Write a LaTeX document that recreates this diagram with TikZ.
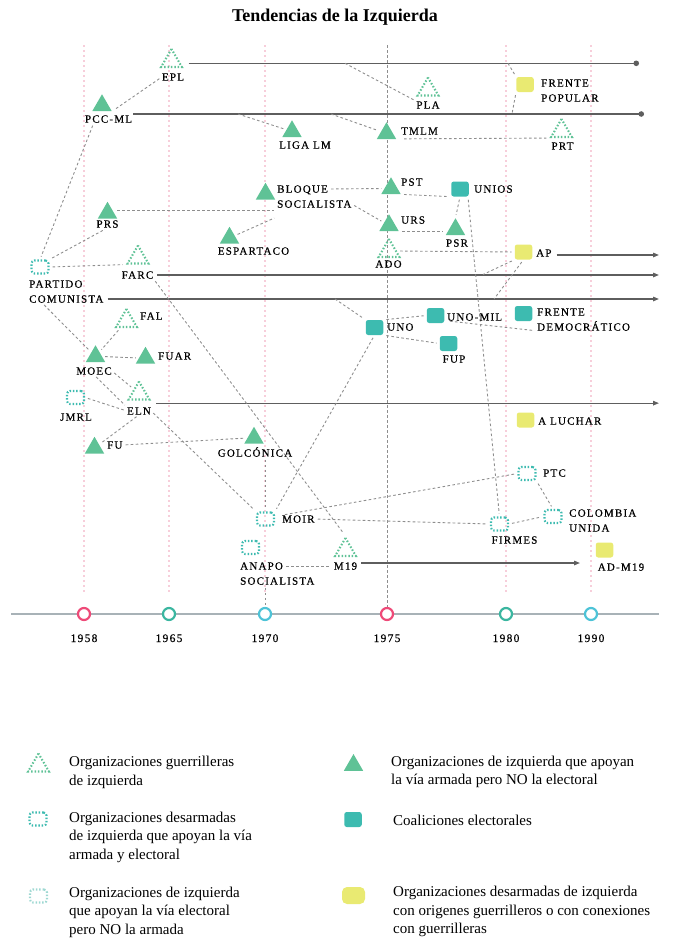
\documentclass[tikz,border=0pt]{standalone}
\usepackage{fontspec}
\setmainfont{Liberation Serif}
\newfontfamily\lblfont[LetterSpace=11,FakeBold=0.5]{Liberation Serif}
\usepackage{tikz}
\usetikzlibrary{arrows.meta,shapes.geometric,backgrounds}
\usepackage{xcolor}
\definecolor{tri}{HTML}{5FC296}
\definecolor{coal}{HTML}{3DBBB0}
\definecolor{yel}{HTML}{E9EA72}
\definecolor{lsq}{HTML}{9ED8D2}
\definecolor{guidec}{HTML}{F7CEDA}
\definecolor{lifec}{HTML}{5E5E5E}
\definecolor{linkc}{HTML}{8E8E8E}
\definecolor{axisc}{HTML}{A8B2B7}
\definecolor{yrA}{HTML}{EE4A78}
\definecolor{yrB}{HTML}{3AB6A0}
\definecolor{yrC}{HTML}{4DC3D7}

\begin{document}
\begin{tikzpicture}[x=1pt,y=-1pt,>={Triangle[length=6pt,width=4.5pt]},line cap=round,
  armed/.style={regular polygon,regular polygon sides=3,fill=tri,minimum size=22.5pt,inner sep=0pt},
  guerrilla/.style={regular polygon,regular polygon sides=3,draw=tri,line width=2.1pt,dash pattern=on 1.5pt off 1.9pt,line cap=butt,minimum size=24pt,inner sep=0pt},
  mixed/.style={rectangle,draw=coal,line width=2.1pt,dash pattern=on 1.5pt off 1.8pt,line cap=butt,rounded corners=3pt,minimum width=17pt,minimum height=13pt,inner sep=0pt},
  electoral/.style={mixed,draw=lsq},
  coalition/.style={rectangle,fill=coal,rounded corners=2.5pt,minimum width=17.5pt,minimum height=15pt,inner sep=0pt},
  excombat/.style={rectangle,fill=yel,rounded corners=2.5pt,minimum width=17.5pt,minimum height=15pt,inner sep=0pt},
  lbl/.style={font=\lblfont\fontsize{11}{15}\selectfont,inner sep=0pt,text height=7.3pt,text depth=0pt},
  yearlbl/.style={font=\lblfont\fontsize{11.5}{14}\selectfont,inner sep=0pt,text height=8pt,text depth=0pt},
  legtxt/.style={font=\fontsize{15}{18.5}\selectfont,inner sep=0pt,align=left,anchor=west},
  year/.style={circle,minimum size=12pt,inner sep=0pt,line width=2.2pt,fill=white},
  link/.style={draw=linkc,line width=0.9pt,dash pattern=on 2.6pt off 2.4pt,line cap=butt,shorten >=3pt,shorten <=3pt},
  life/.style={draw=lifec,line width=1.3pt,line cap=butt},
  guide/.style={draw=guidec,line width=2pt,dash pattern=on 2pt off 3pt,line cap=butt},
  axis/.style={draw=axisc,line width=2.5pt,line cap=butt}]
\useasboundingbox (0,0) rectangle (680,943);

\node[font=\bfseries\fontsize{18}{22}\selectfont,inner sep=0pt] (title) at (335,17) {Tendencias de la Izquierda};

% organizaciones
\node[guerrilla] (epl) at (171.5,61) {};
\node[lbl] (epl-t) at (173,77) {EPL};
\node[armed] (pccml) at (102,105.5) {};
\node[lbl] (pccml-t) at (108.5,119) {PCC-ML};
\node[armed] (liga) at (292,131.5) {};
\node[lbl] (liga-t) at (305,145) {LIGA LM};
\node[guerrilla] (pla) at (428,89.5) {};
\node[lbl] (pla-t) at (428,105) {PLA};
\node[armed] (tmlm) at (386.5,133.5) {};
\node[lbl,anchor=west] (tmlm-t) at (401,131) {TMLM};
\node[excombat] (fp) at (525,84.5) {};
\node[lbl,anchor=west] (fp-t) at (541,83) {FRENTE};
\node[lbl,anchor=west] (fp-t2) at (541,98) {POPULAR};
\node[guerrilla] (prt) at (561.5,131) {};
\node[lbl] (prt-t) at (562.5,146) {PRT};
\node[armed] (bloque) at (265.5,194) {};
\node[lbl,anchor=west] (bloque-t) at (277,189) {BLOQUE};
\node[lbl,anchor=west] (bloque-t2) at (277,204) {SOCIALISTA};
\node[armed] (pst) at (391,188.5) {};
\node[lbl,anchor=west] (pst-t) at (401,182) {PST};
\node[coalition] (unios) at (460,189) {};
\node[lbl,anchor=west] (unios-t) at (474,189) {UNIOS};
\node[armed] (prs) at (107.5,213) {};
\node[lbl] (prs-t) at (107.5,224) {PRS};
\node[armed] (espartaco) at (229.5,238) {};
\node[lbl] (espartaco-t) at (253.5,251) {ESPARTACO};
\node[armed] (urs) at (389,225.5) {};
\node[lbl,anchor=west] (urs-t) at (401,220) {URS};
\node[armed] (psr) at (455.5,229.5) {};
\node[lbl] (psr-t) at (457,243) {PSR};
\node[guerrilla] (ado) at (389,251) {};
\node[lbl] (ado-t) at (388.5,264) {ADO};
\node[excombat] (ap) at (523.5,252) {};
\node[lbl,anchor=west] (ap-t) at (536,253) {AP};
\node[mixed] (pc) at (40,267) {};
\node[lbl,anchor=west] (pc-t) at (29,284) {PARTIDO};
\node[lbl,anchor=west] (pc-t2) at (29,299) {COMUNISTA};
\node[guerrilla] (farc) at (138,257.5) {};
\node[lbl] (farc-t) at (137.5,275) {FARC};
\node[guerrilla] (fal) at (126.5,321) {};
\node[lbl,anchor=west] (fal-t) at (140,316) {FAL};
\node[coalition] (unomil) at (435.5,315.5) {};
\node[lbl,anchor=west] (unomil-t) at (447,317) {UNO-MIL};
\node[coalition] (fd) at (523.5,313.5) {};
\node[lbl,anchor=west] (fd-t) at (537,312) {FRENTE};
\node[lbl,anchor=west] (fd-t2) at (537,327) {DEMOCRÁTICO};
\node[coalition] (uno) at (374.5,327.5) {};
\node[lbl,anchor=west] (uno-t) at (387,327) {UNO};
\node[coalition] (fup) at (448.5,343.5) {};
\node[lbl] (fup-t) at (454,359) {FUP};
\node[armed] (moec) at (95.5,356.5) {};
\node[lbl] (moec-t) at (94,371) {MOEC};
\node[armed] (fuar) at (145.5,358) {};
\node[lbl,anchor=west] (fuar-t) at (158,356) {FUAR};
\node[guerrilla] (eln) at (139,393.5) {};
\node[lbl] (eln-t) at (139,411) {ELN};
\node[mixed] (jmrl) at (75.5,397.5) {};
\node[lbl] (jmrl-t) at (76,417) {JMRL};
\node[excombat] (aluchar) at (525.5,420) {};
\node[lbl,anchor=west] (aluchar-t) at (538,421) {A LUCHAR};
\node[armed] (fu) at (94.5,448) {};
\node[lbl,anchor=west] (fu-t) at (107,445) {FU};
\node[armed] (golc) at (254,438) {};
\node[lbl] (golc-t) at (255,453) {GOLCÓNICA};
\node[mixed] (ptc) at (527,473.5) {};
\node[lbl,anchor=west] (ptc-t) at (543,473) {PTC};
\node[mixed] (cu) at (553,516.5) {};
\node[lbl,anchor=west] (cu-t) at (569,513) {COLOMBIA};
\node[lbl,anchor=west] (cu-t2) at (569,528) {UNIDA};
\node[mixed] (moir) at (265.5,519) {};
\node[lbl,anchor=west] (moir-t) at (282,519) {MOIR};
\node[mixed] (firmes) at (499.5,524) {};
\node[lbl] (firmes-t) at (514.5,540) {FIRMES};
\node[mixed] (anapo) at (250.5,547.5) {};
\node[lbl,anchor=west] (anapo-t) at (240,566) {ANAPO};
\node[lbl,anchor=west] (anapo-t2) at (240,581) {SOCIALISTA};
\node[guerrilla] (m19) at (345.5,550) {};
\node[lbl] (m19-t) at (345.5,566) {M19};
\node[excombat] (adm19) at (604.5,550) {};
\node[lbl] (adm19-t) at (621,567) {AD-M19};

% linea de tiempo
\node[year,draw=yrA] (y1958) at (84,614) {};
\node[yearlbl] (y1958-t) at (84,638) {1958};
\node[year,draw=yrB] (y1965) at (169,614) {};
\node[yearlbl] (y1965-t) at (169,638) {1965};
\node[year,draw=yrC] (y1970) at (265,614) {};
\node[yearlbl] (y1970-t) at (265,638) {1970};
\node[year,draw=yrA] (y1975) at (387,614) {};
\node[yearlbl] (y1975-t) at (387,638) {1975};
\node[year,draw=yrB] (y1980) at (506,614) {};
\node[yearlbl] (y1980-t) at (506,638) {1980};
\node[year,draw=yrC] (y1990) at (591,614) {};
\node[yearlbl] (y1990-t) at (591,638) {1990};

\begin{scope}[on background layer]
\coordinate (gtop) at (0,45);
\coordinate (rim) at (659,0);
\coordinate (axl) at (11,614);
\draw[guide] (y1958.north |- gtop) -- ([yshift=12pt]y1958.north);
\draw[guide] (y1965.north |- gtop) -- ([yshift=12pt]y1965.north);
\draw[guide] (y1970.north |- gtop) -- ([yshift=12pt]y1970.north);
\draw[guide] (y1980.north |- gtop) -- ([yshift=12pt]y1980.north);
\draw[guide] (y1990.north |- gtop) -- ([yshift=12pt]y1990.north);
\draw[link,shorten <=0pt,shorten >=0pt] (y1975.north |- gtop) -- (y1975.north);
\draw[axis] (axl) -- (axl -| rim);

% trayectorias
\coordinate (epl-e) at (639,63.3);
\coordinate (pccml-e) at (644,114);
\coordinate (m19-e) at (580,563);
\draw[life,-{Circle[length=5.5pt]}] ([xshift=9pt]epl.east |- epl-e) -- (epl-e);
\draw[life,-{Circle[length=5.5pt]}] ([xshift=1pt]pccml-t.east |- pccml-e) -- (pccml-e);
\draw[life,->] ([xshift=5pt,yshift=-2pt]ap-t.east) coordinate (ap-s) -- (ap-s -| rim);
\draw[life,->] ([xshift=4pt]farc-t.east) coordinate (farc-s) -- (farc-s -| rim);
\draw[life,->] ([xshift=4pt]pc-t2.east) coordinate (pc-s) -- (pc-s -| rim);
\draw[life,->] ([shift={(5pt,4pt)}]eln-t.north east) coordinate (eln-s) -- (eln-s -| rim);
\draw[life,->] ([shift={(4pt,3pt)}]m19-t.east) -- (m19-e);

% vinculos
\coordinate (pl-liga) at (238,114);
\coordinate (pl-tmlm) at (331,114);
\coordinate (el-pla) at (345,63.3);
\coordinate (el-fp) at (508,63.3);
\coordinate (pl-fp) at (512,114);
\coordinate (fl-ap) at (483,274.5);
\coordinate (cl-ap) at (494,299);
\coordinate (cl-uno) at (335,299);
\draw[link] (epl-t.west) -- (pccml.corner 3);
\draw[link] ([xshift=9pt]pccml-t.south west) -- (pc.north);
\draw[link,shorten <=0pt] (pl-liga) -- (liga);
\draw[link,shorten <=0pt] (el-pla) -- (pla-t.north west);
\draw[link,shorten <=0pt] (pl-tmlm) -- (tmlm);
\draw[link] ([yshift=-4pt]tmlm-t.south west) -- (prt.corner 2);
\draw[link,shorten <=0pt] (el-fp) -- (fp.north west);
\draw[link,shorten >=0pt] (fp.south west) -- (pl-fp);
\draw[link] (bloque-t.east) -- (pst.west);
\draw[link] (pst.corner 3) -- (unios.south west);
\draw[link] (bloque-t2.east) -- (urs);
\draw[link] ([yshift=3pt]prs.east) -- ([yshift=3pt]prs.east -| bloque-t2.west);
\draw[link] (espartaco) -- ([yshift=-9pt]bloque-t2.south west);
\draw[link] (urs.corner 3) -- (urs.corner 3 -| psr.corner 2);
\draw[link] (unios.south) -- (psr.corner 1);
\draw[link] ([xshift=-1pt]unios.south east) -- (firmes.north);
\draw[link] (ado.east) -- (ap.west);
\draw[link,shorten >=0pt] (ap.south west) -- (fl-ap);
\draw[link,shorten >=0pt] (ap.south) -- (cl-ap);
\draw[link] (pc.north east) -- (prs-t.south);
\draw[link] (pc.east) -- (farc.corner 2);
\draw[link] ([xshift=13pt]pc-t2.south west) -- (moec);
\draw[link] (farc-t.south east) -- (m19.corner 1);
\draw[link,shorten <=0pt] (cl-uno) -- (uno.north west);
\draw[link] (uno.north east) -- (unomil.west);
\draw[link] (unomil-t.south west) -- (fd-t2.south west);
\draw[link] (uno.south east) -- (fup.west);
\draw[link] (uno.south) -- (moir.north east);
\draw[link] (fal) -- (moec);
\draw[link] (moec.east) -- (fuar.west);
\draw[link] (moec-t.east) -- (eln);
\draw[link] (moec-t.south) -- (eln-t.north west);
\draw[link] (jmrl.east) -- (eln-t.west);
\draw[link] (eln-t.south) -- (fu);
\draw[link] (fu-t.east) -- (golc.west);
\draw[link] (eln-t.east) -- (moir.north west);
\draw[link] (moir-t.north west) -- (ptc.west);
\draw[link] (moir-t.east) -- (firmes.west);
\draw[link] (firmes.east) -- (cu.west);
\draw[link] (ptc.south east) -- (cu.north);
\draw[link] (anapo-t.east) -- (m19-t.west);
\draw[link] (golc-t.south -| moir.north) -- (moir.north);
\draw[link,shorten >=0pt] (anapo-t2.south -| y1970.north) -- (y1970.north);
\end{scope}

% convenciones
\node[guerrilla] (leg1) at (38.5,765.5) {};
\node[legtxt] (leg1-t) at (69,772.5) {Organizaciones guerrilleras\\de izquierda};
\node[mixed] (leg2) at (38,819) {};
\node[legtxt] (leg2-t) at (69,837) {Organizaciones desarmadas\\de izquierda que apoyan la vía\\armada y electoral};
\node[electoral] (leg3) at (38.5,896) {};
\node[legtxt] (leg3-t) at (69,912) {Organizaciones de izquierda\\que apoyan la vía electoral\\pero NO la armada};
\node[armed] (leg4) at (353.5,765.3) {};
\node[legtxt] (leg4-t) at (391,772) {Organizaciones de izquierda que apoyan\\la vía armada pero NO la electoral};
\node[coalition] (leg5) at (353,819.5) {};
\node[legtxt] (leg5-t) at (393,820) {Coaliciones electorales};
\node[excombat,minimum width=23pt,minimum height=17pt,rounded corners=5pt] (leg6) at (353.5,895.5) {};
\node[legtxt] (leg6-t) at (393,911.5) {Organizaciones desarmadas de izquierda\\con origenes guerrilleros o con conexiones\\con guerrilleras};
\end{tikzpicture}
\end{document}
